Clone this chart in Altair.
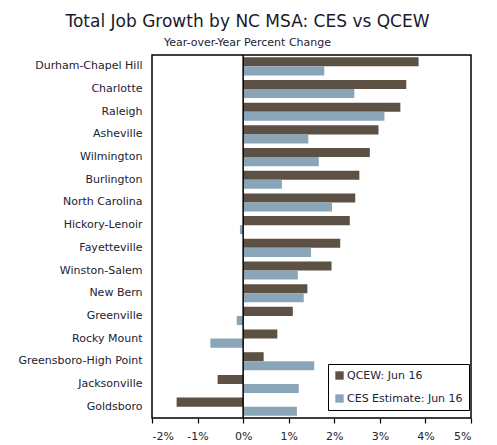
import altair as alt
import pandas as pd

msas = ["Durham-Chapel Hill", "Charlotte", "Raleigh", "Asheville", "Wilmington",
        "Burlington", "North Carolina", "Hickory-Lenoir", "Fayetteville",
        "Winston-Salem", "New Bern", "Greenville", "Rocky Mount",
        "Greensboro-High Point", "Jacksonville", "Goldsboro"]
qcew = [3.85, 3.58, 3.45, 2.97, 2.78, 2.55, 2.46, 2.34, 2.13, 1.94, 1.41, 1.09, 0.75, 0.45, -0.56, -1.46]
ces = [1.78, 2.44, 3.10, 1.43, 1.66, 0.85, 1.95, -0.07, 1.49, 1.20, 1.33, -0.14, -0.72, 1.56, 1.22, 1.18]
series_names = ["QCEW: Jun 16", "CES Estimate: Jun 16"]
x_ticks = [-2, -1, 0, 1, 2, 3, 4, 5]

rows = []
for m, q, c in zip(msas, qcew, ces):
    rows.append({"msa": m, "series": series_names[0], "value": q})
    rows.append({"msa": m, "series": series_names[1], "value": c})
df = pd.DataFrame(rows)

FONT = "DejaVu Sans"

bars = alt.Chart(df).mark_bar().encode(
    y=alt.Y("msa:N", sort=msas,
            scale=alt.Scale(paddingInner=0.2, paddingOuter=0.1),
            axis=alt.Axis(title=None, ticks=False, domain=False, labelPadding=10,
                          labelFontSize=11, labelColor="#222233", labelFont=FONT)),
    yOffset=alt.YOffset("series:N", sort=series_names,
                        scale=alt.Scale(paddingInner=0, paddingOuter=0)),
    x=alt.X("value:Q", scale=alt.Scale(domain=[-2, 5], nice=False, zero=False),
            axis=alt.Axis(values=x_ticks, labelExpr="datum.value + '%'", title=None,
                          grid=False, tickSize=5, tickColor="black", tickWidth=1.2,
                          domain=False, labelFontSize=11, labelFont=FONT,
                          labelColor="#222233", labelPadding=7)),
    color=alt.Color("series:N", sort=series_names,
                    scale=alt.Scale(domain=series_names, range=["#5d5145", "#8aa5b8"]),
                    legend=alt.Legend(title=None, orient="none", legendX=176, legendY=309,
                                      strokeColor="black", fillColor="white", padding=6,
                                      symbolType="square", symbolSize=70,
                                      symbolStrokeWidth=0, labelFontSize=11,
                                      labelFont=FONT, labelColor="#222233",
                                      rowPadding=11, labelOffset=2))
)

zero = alt.Chart(pd.DataFrame({"x": [0]})).mark_rule(color="black", strokeWidth=1.5).encode(x="x:Q")

chart = alt.layer(bars, zero).properties(
    width=319, height=363,
    title=alt.TitleParams(text="Total Job Growth by NC MSA: CES vs QCEW",
                          subtitle="Year-over-Year Percent Change",
                          fontSize=17, font=FONT, fontWeight="normal", color="#1a1a2a",
                          subtitleFontSize=11, subtitleFont=FONT, subtitleColor="#222233",
                          anchor="middle", dx=-64, offset=5, subtitlePadding=6),
    autosize=alt.AutoSizeParams(type="none"),
    padding={"left": 144, "top": 47, "right": 18, "bottom": 26},
).configure_view(stroke="black", strokeWidth=1.5)

chart.save("out.html", embed_options={"renderer": "svg", "actions": False})
